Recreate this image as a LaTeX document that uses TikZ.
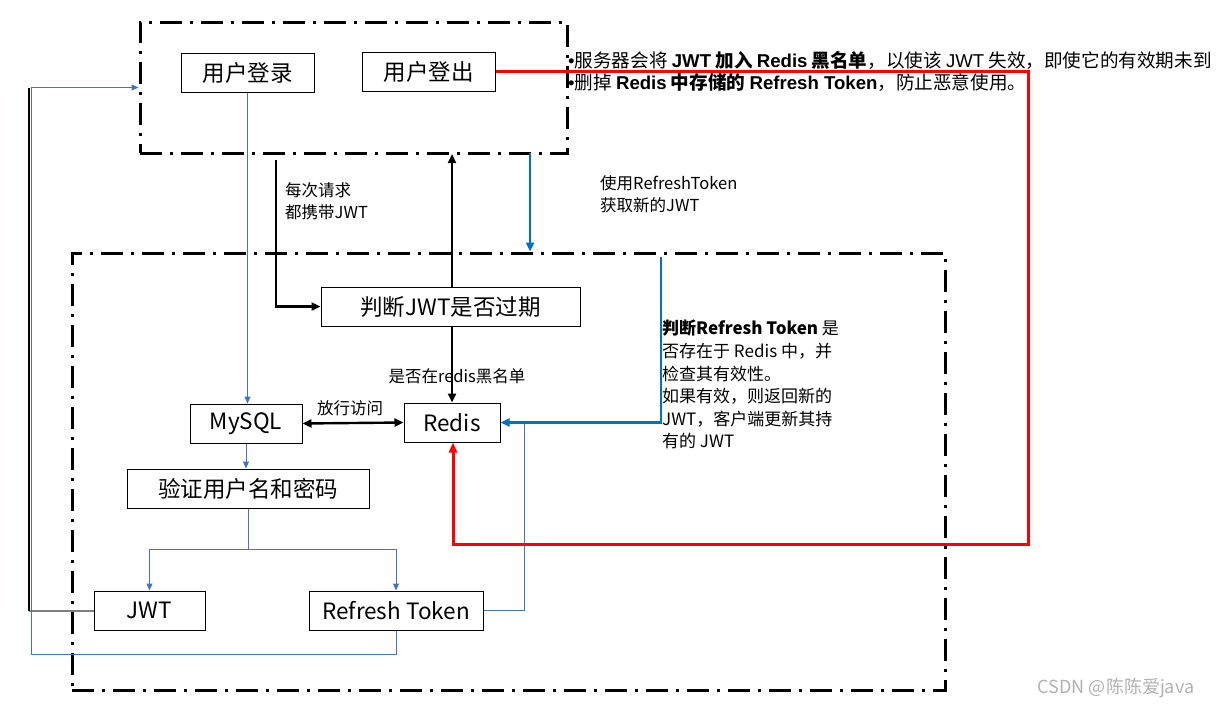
\documentclass[tikz,border=0pt]{standalone}
\usepackage{fontspec}
\setmainfont{Noto Sans CJK SC}
\newfontfamily\lsans{Liberation Sans}
\usetikzlibrary{arrows.meta}
\definecolor{tblue}{HTML}{4472C4}
\definecolor{kblue}{HTML}{0070C0}
\definecolor{lgray}{HTML}{7F7F7F}
\tikzset{
  box/.style={draw=black, line width=1pt, inner sep=0pt, font=\fontsize{22.5}{26}\selectfont},
  frame/.style={draw=black, line width=3pt, dash pattern=on 22pt off 8pt on 3pt off 8pt, inner sep=0pt},
  thinb/.style={draw=tblue, line width=1pt},
  thinarr/.style={thinb, -{Triangle[length=7pt,width=6pt]}},
  thickk/.style={draw=black, line width=2.4pt},
  thickarr/.style={thickk, -{Triangle[length=9pt,width=8pt]}},
  kbl/.style={draw=kblue, line width=2.4pt},
  kblarr/.style={kbl, -{Triangle[length=9pt,width=8pt]}},
  redl/.style={draw=red, line width=3pt},
  lbl/.style={inner sep=0pt, font=\fontsize{16.5}{22.6}\selectfont, align=left},
}
\begin{document}
\begin{tikzpicture}[x=1pt,y=-1pt]
\useasboundingbox (0,0) rectangle (1221,707);
\fill[white] (0,0) rectangle (1221,707);

% frames
\node[frame, minimum width=427pt, minimum height=131pt] (topframe) at (353.5,87.5) {};
\node[frame, minimum width=873pt, minimum height=437pt] (botframe) at (508.5,471.5) {};

% boxes
\node[box, minimum width=133pt, minimum height=39pt] (login) at (247.5,72.5) {用户登录};
\node[box, minimum width=133pt, minimum height=39pt] (logout) at (428.5,71.5) {用户登出};
\node[box, minimum width=259pt, minimum height=39pt] (judge) at (450.5,306.5) {判断JWT是否过期};
\node[box, minimum width=96pt, minimum height=39pt] (redis) at (452,422.5) {Redis};
\node[box, minimum width=112pt, minimum height=39pt] (mysql) at (246,423.5) {MySQL};
\node[box, minimum width=242pt, minimum height=39pt] (verify) at (248,488.5) {验证用户名和密码};
\node[box, minimum width=111pt, minimum height=39pt] (jwt) at (149.5,610.5) {JWT};
\node[box, minimum width=174pt, minimum height=39pt] (rt) at (396,610.5) {Refresh Token};

% labels
\node[lbl, anchor=north west] (l1) at (285,182) {每次请求\\都携带JWT};
\node[lbl, anchor=north west] (l2) at (600,175) {使用RefreshToken\\获取新的JWT};
\node[lbl, anchor=south] (l3) at (457,384) {是否在redis黑名单};
\node[lbl, anchor=south] (l4) at (350,416) {放行访问};
\node[lbl, anchor=north west, font=\fontsize{17}{22.6}\selectfont] (l5) at (662,320) {\textbf{判断Refresh Token} 是\\否存在于 Redis 中，并\\检查其有效性。\\如果有效，则返回新的\\JWT，客户端更新其持\\有的 JWT};
\node[lbl, anchor=north west, font=\fontsize{18.6}{22}\selectfont] (b1) at (568,51) {{\lsans •}服务器会将 \textbf{{\lsans JWT} 加入 {\lsans Redis} 黑名单}，以使该 {\lsans JWT} 失效，即使它的有效期未到};
\node[lbl, anchor=north west, font=\fontsize{18.6}{22}\selectfont] (b2) at (568,73) {{\lsans •}删掉 \textbf{{\lsans Redis} 中存储的 {\lsans Refresh Token}}，防止恶意使用。};
\node[inner sep=0pt, text=black!30, font=\fontsize{18}{22}\selectfont] (wm) at (1116,688) {CSDN @陈陈爱java};

% coordinates
\coordinate (c1) at (276,160);
\coordinate (lc) at (31,654);
\coordinate (bk) at (29,610.5);
\coordinate (rtc) at (524,610.5);
\coordinate (kb1) at (530,153);
\coordinate (kb2) at (661,257);
\coordinate (rc) at (1028,544);

% thin blue
\draw[thinarr] (login.south) -- (login.south |- mysql.north);
\draw[thinarr] (mysql.south) -- (mysql.south |- verify.north);
\draw[thinarr] (verify.south) -- ++(0,41) -| (jwt.north);
\draw[thinarr] (verify.south) -- ++(0,41) -| (rt.north);
\draw[draw=lgray, line width=2pt] (jwt.west) -- (bk);
\draw[draw=black, line width=1.5pt] (bk) -- (29,87.5);
\draw[thinarr] (rt.south) |- (lc) |- (topframe.west);
\draw[thinb] (rtc) -- (rt.east);
\draw[thinb] (rtc) -- (rtc |- redis.east);

% thick blue
\draw[kblarr] (kb1) -- (kb1 |- botframe.north);
\draw[kblarr] (kb2) |- (redis.east);

% black
\draw[thickarr] (c1) |- (judge.west);
\draw[thickarr] (judge.north -| 452,0) -- (452,154);
\draw[thickarr] (judge.south -| 452,0) -- (redis.north -| 452,0);
\draw[thickk, {Triangle[length=9pt,width=8pt]}-{Triangle[length=9pt,width=8pt]}] (mysql.east) -- (redis.west);

% red
\draw[redl, -{Triangle[length=10pt,width=8pt]}] (logout.east) -| (rc) -| (redis.south -| 453,0);
\end{tikzpicture}
\end{document}
